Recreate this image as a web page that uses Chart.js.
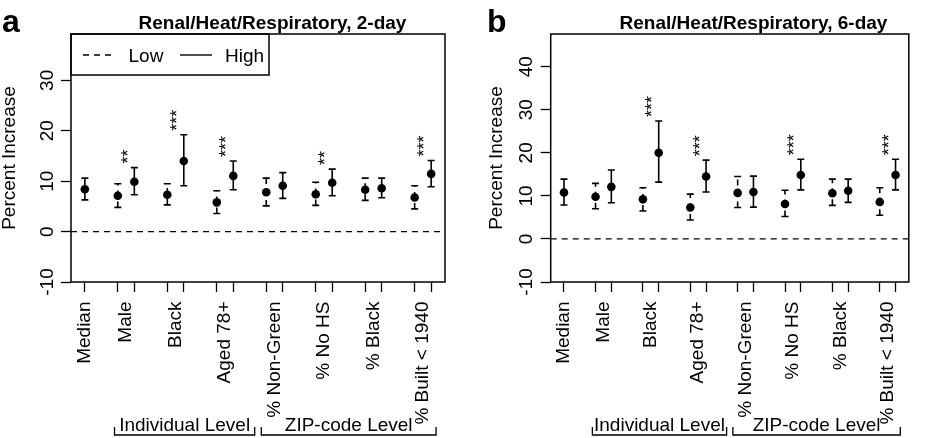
<!DOCTYPE html>
<html>
<head>
<meta charset="utf-8">
<script src="https://cdn.jsdelivr.net/npm/chart.js@4.4.1/dist/chart.umd.min.js"></script>
<style>
  html, body { margin: 0; padding: 0; background: #fff; }
  #wrap { position: relative; width: 928px; height: 438px; overflow: hidden; }
  canvas { position: absolute; top: 0; }
</style>
</head>
<body>
<div id="wrap">
  <canvas id="panelA" width="464" height="438" style="left:0"></canvas>
  <canvas id="panelB" width="464" height="438" style="left:464px"></canvas>
</div>
<script>
// categories and where they sit on the x axis
const xLabels = ['Median', 'Male', 'Black', 'Aged 78+', '% Non-Green', '% No HS', '% Black', '% Built < 1940'];
const labelPos = [0, 2.5, 5.5, 8.5, 11.5, 14.5, 17.5, 20.5];
const medianPos = [0];
const lowPos = [2, 5, 8, 11, 14, 17, 20];
const highPos = [3, 6, 9, 12, 15, 18, 21];
const levelNames = ['Individual Level', 'ZIP-code Level'];
const levelFrom = [1.8, 10.7];
const levelTo = [10.3, 21.3];

// panel a: 2-day
const medianEstA = [8.4];
const medianLoA = [6.3];
const medianHiA = [10.6];
const lowEstA = [7.1, 7.3, 5.8, 7.8, 7.4, 8.3, 6.75];
const lowLoA = [4.8, 5.3, 3.6, 5.1, 5.2, 6.2, 4.5];
const lowHiA = [9.5, 9.5, 8.1, 10.6, 9.8, 10.6, 9.1];
const highEstA = [9.9, 14.0, 11.05, 9.1, 9.7, 8.6, 11.45];
const highLoA = [7.3, 9.1, 8.3, 6.6, 7.1, 6.7, 8.9];
const highHiA = [12.7, 19.2, 14.0, 11.7, 12.4, 10.6, 14.1];
const starsA = ['**', '***', '***', '', '**', '', '***'];
const yTicksA = [-10, 0, 10, 20, 30];

// panel b: 6-day
const medianEstB = [10.8];
const medianLoB = [7.9];
const medianHiB = [13.9];
const lowEstB = [9.8, 9.2, 7.3, 10.7, 8.1, 10.6, 8.6];
const lowLoB = [7.0, 6.5, 4.4, 7.3, 5.2, 7.8, 5.5];
const lowHiB = [12.9, 11.9, 10.4, 14.5, 11.3, 13.9, 11.9];
const highEstB = [12.1, 20.0, 14.5, 10.9, 14.85, 11.2, 14.85];
const highLoB = [8.4, 13.2, 10.9, 7.4, 11.4, 8.5, 11.4];
const highHiB = [16.0, 27.4, 18.3, 14.6, 18.5, 13.9, 18.5];
const starsB = ['', '***', '***', '', '***', '', '***'];
const yTicksB = [-10, 0, 10, 20, 30, 40];

const FONT = '"Liberation Sans", Arial, Helvetica, sans-serif';
Chart.defaults.font.family = FONT;
Chart.defaults.color = '#000';

const xTickVals = [...new Set([...medianPos, ...lowPos, ...highPos, ...labelPos])].sort((a, b) => a - b);
const DASH = [6, 5];

function toPoints(xs, ys) {
  return xs.map((x, i) => ({ x: x, y: ys[i] }));
}

function drawBar(ctx, x, yLo, yHi, dashed) {
  ctx.setLineDash(dashed ? DASH : []);
  ctx.beginPath();
  ctx.moveTo(x, yLo);
  ctx.lineTo(x, yHi);
  ctx.stroke();
  ctx.setLineDash([]);
  ctx.beginPath();
  ctx.moveTo(x - 3.5, yLo); ctx.lineTo(x + 3.5, yLo);
  ctx.moveTo(x - 3.5, yHi); ctx.lineTo(x + 3.5, yHi);
  ctx.stroke();
}

function makePanel(id, d, look) {
  const decor = {
    id: 'decor',
    beforeDatasetsDraw(chart) {
      const { ctx, chartArea: a, scales: { x, y } } = chart;
      ctx.save();
      ctx.strokeStyle = '#000';
      // zero reference line
      ctx.lineWidth = 1.3;
      ctx.setLineDash(DASH);
      ctx.beginPath();
      ctx.moveTo(a.left, y.getPixelForValue(0));
      ctx.lineTo(a.right, y.getPixelForValue(0));
      ctx.stroke();
      // error bars
      ctx.lineWidth = 1.6;
      medianPos.forEach((p, i) => drawBar(ctx, x.getPixelForValue(p), y.getPixelForValue(d.medLo[i]), y.getPixelForValue(d.medHi[i]), false));
      lowPos.forEach((p, i) => drawBar(ctx, x.getPixelForValue(p), y.getPixelForValue(d.lowLo[i]), y.getPixelForValue(d.lowHi[i]), true));
      highPos.forEach((p, i) => drawBar(ctx, x.getPixelForValue(p), y.getPixelForValue(d.highLo[i]), y.getPixelForValue(d.highHi[i]), false));
      ctx.restore();
    },
    afterDatasetsDraw(chart) {
      const { ctx, scales: { x, y } } = chart;
      ctx.save();
      ctx.fillStyle = '#000';
      ctx.font = '18px ' + FONT;
      ctx.textAlign = 'left';
      ctx.textBaseline = 'middle';
      d.stars.forEach((s, i) => {
        if (!s) return;
        ctx.save();
        ctx.translate(x.getPixelForValue(labelPos[i + 1]) + 2.5, y.getPixelForValue(d.highHi[i]) - 4);
        ctx.rotate(-Math.PI / 2);
        ctx.fillText(s, 0, 0);
        ctx.restore();
      });
      ctx.restore();
    },
    afterDraw(chart) {
      const { ctx, chartArea: a, scales: { x } } = chart;
      ctx.save();
      ctx.strokeStyle = '#000';
      ctx.fillStyle = '#000';
      ctx.lineWidth = 1.5;
      ctx.strokeRect(a.left, a.top, a.right - a.left, a.bottom - a.top);
      if (look.legend) {
        ctx.strokeRect(a.left, a.top, 198, 41);
        ctx.lineWidth = 1.4;
        ctx.setLineDash(DASH);
        ctx.beginPath(); ctx.moveTo(a.left + 12, 55); ctx.lineTo(a.left + 41, 55); ctx.stroke();
        ctx.setLineDash([]);
        ctx.beginPath(); ctx.moveTo(a.left + 109, 55); ctx.lineTo(a.left + 141, 55); ctx.stroke();
        ctx.font = '19px ' + FONT;
        ctx.textAlign = 'left';
        ctx.textBaseline = 'alphabetic';
        ctx.fillText('Low', a.left + 57.5, 62);
        ctx.fillText('High', a.left + 154, 62);
      }
      // title and panel letter
      ctx.font = 'bold 19px ' + FONT;
      ctx.textAlign = 'center';
      ctx.textBaseline = 'alphabetic';
      ctx.fillText(look.title, look.titleX, 28.5);
      ctx.font = 'bold 32px ' + FONT;
      ctx.textAlign = 'left';
      ctx.fillText(look.letter, look.letterX, 32);
      // group brackets
      ctx.lineWidth = 1.3;
      ctx.font = '19px ' + FONT;
      ctx.textAlign = 'center';
      levelNames.forEach((name, i) => {
        const x0 = x.getPixelForValue(levelFrom[i]);
        const x1 = x.getPixelForValue(levelTo[i]);
        ctx.beginPath();
        ctx.moveTo(x0, 427); ctx.lineTo(x0, 435); ctx.lineTo(x1, 435); ctx.lineTo(x1, 427);
        ctx.stroke();
        ctx.fillText(name, (x0 + x1) / 2, 431);
      });
      ctx.restore();
    }
  };

  return new Chart(document.getElementById(id), {
    type: 'scatter',
    data: {
      datasets: [
        { label: 'Median', data: toPoints(medianPos, d.medEst) },
        { label: 'Low', data: toPoints(lowPos, d.lowEst) },
        { label: 'High', data: toPoints(highPos, d.highEst) }
      ]
    },
    options: {
      responsive: false,
      animation: false,
      events: [],
      layout: { padding: { left: look.padLeft, right: look.padRight, top: 34, bottom: 0 } },
      elements: {
        point: { radius: 4.3, backgroundColor: '#000', borderWidth: 0, pointStyle: 'circle' }
      },
      plugins: { legend: { display: false }, tooltip: { enabled: false }, title: { display: false } },
      scales: {
        x: {
          type: 'linear',
          min: -0.84,
          max: 21.84,
          afterBuildTicks: (s) => { s.ticks = xTickVals.map(v => ({ value: v })); },
          afterFit: (s) => { s.height = 156; },
          border: { display: false },
          grid: {
            drawOnChartArea: false,
            tickLength: 10,
            tickWidth: 1.3,
            tickColor: (c) => Number.isInteger(c.tick.value) ? '#000' : 'rgba(0,0,0,0)'
          },
          ticks: {
            autoSkip: false,
            minRotation: 90,
            maxRotation: 90,
            padding: 9.5,
            color: '#000',
            font: { size: 19 },
            callback: (v) => { const i = labelPos.indexOf(v); return i >= 0 ? xLabels[i] : ''; }
          }
        },
        y: {
          min: -10,
          max: look.yMax,
          afterBuildTicks: (s) => { s.ticks = look.yTicks.map(v => ({ value: v })); },
          afterFit: (s) => { s.width = look.yWidth; },
          border: { display: false },
          grid: { drawOnChartArea: false, tickLength: 10, tickWidth: 1.3, tickColor: '#000' },
          ticks: {
            autoSkip: false,
            minRotation: 90,
            maxRotation: 90,
            crossAlign: 'center',
            padding: look.yTickPad,
            color: '#000',
            font: { size: 19 }
          },
          title: {
            display: true,
            text: 'Percent Increase',
            color: '#000',
            font: { size: 19 },
            padding: { top: look.yTitlePad, bottom: 0 }
          }
        }
      }
    },
    plugins: [decor]
  });
}

makePanel('panelA', {
  medEst: medianEstA, medLo: medianLoA, medHi: medianHiA,
  lowEst: lowEstA, lowLo: lowLoA, lowHi: lowHiA,
  highEst: highEstA, highLo: highLoA, highHi: highHiA,
  stars: starsA
}, {
  title: 'Renal/Heat/Respiratory, 2-day', titleX: 272.5, letter: 'a', letterX: 2,
  yMax: 39.2, yTicks: yTicksA, padLeft: 0, padRight: 15, yWidth: 71, yTickPad: 0, yTitlePad: -1.4,
  legend: true
});

makePanel('panelB', {
  medEst: medianEstB, medLo: medianLoB, medHi: medianHiB,
  lowEst: lowEstB, lowLo: lowLoB, lowHi: lowHiB,
  highEst: highEstB, highLo: highLoB, highHi: highHiB,
  stars: starsB
}, {
  title: 'Renal/Heat/Respiratory, 6-day', titleX: 289.5, letter: 'b', letterX: 23,
  yMax: 47.6, yTicks: yTicksB, padLeft: 21, padRight: 1, yWidth: 65.7, yTickPad: 0, yTitlePad: 0,
  legend: false
});
</script>
</body>
</html>
